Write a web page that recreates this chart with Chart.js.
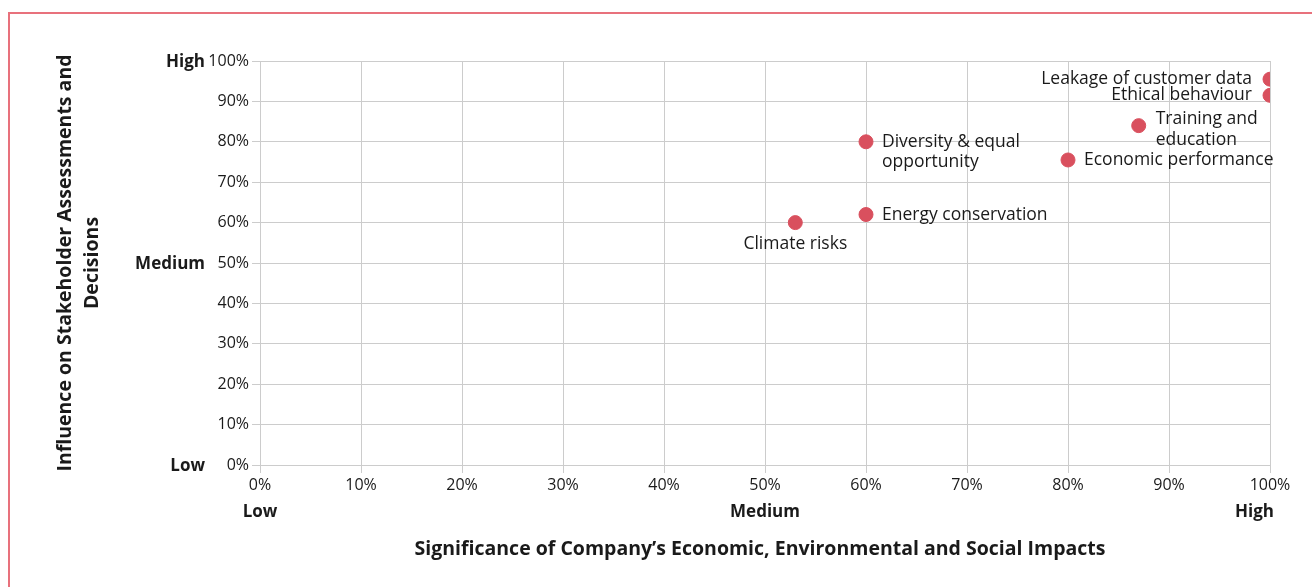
<!DOCTYPE html>
<html>
<head>
<meta charset="utf-8">
<script src="https://cdn.jsdelivr.net/npm/chart.js@4/dist/chart.umd.min.js"></script>
<style>
  html, body { margin: 0; padding: 0; background: #fff; overflow: hidden; }
  #frame { position: absolute; left: 8px; top: 12px; width: 1330px; height: 620px; border: 2px solid #e8717c; }
  #wrap { position: absolute; left: 0; top: 0; width: 1312px; height: 587px; }
</style>
</head>
<body>
<div id="frame"></div>
<div id="wrap"><canvas id="myChart"></canvas></div>
<script>
// topics and their scores (% significance, % influence)
const topics = [
  ["Leakage of customer data"],
  ["Ethical behaviour"],
  ["Training and", "education"],
  ["Diversity & equal", "opportunity"],
  ["Economic performance"],
  ["Energy conservation"],
  ["Climate risks"],
];
const significance = [100, 100, 87, 60, 80, 60, 53];
const influence = [95.5, 91.5, 84, 80, 75.5, 62, 60];
// where each label sits relative to its dot
const labelSide = ["left", "left", "rightUp", "right", "right", "right", "below"];

const levelNames = ["Low", "Medium", "High"];
const levelValues = [0, 50, 100];

const xTitle = "Significance of Company\u2019s Economic, Environmental and Social Impacts";
const yTitle = ["Influence on Stakeholder Assessments and", "Decisions"];

const points = significance.map((s, i) => ({ x: s, y: influence[i] }));

const extraText = {
  id: "extraText",
  afterDraw(chart) {
    const ctx = chart.ctx;
    const xs = chart.scales.x, ys = chart.scales.y;
    ctx.save();
    ctx.fillStyle = "#1a1a1a";

    // point labels
    ctx.font = "17.5px 'Open Sans'";
    const meta = chart.getDatasetMeta(0);
    meta.data.forEach((pt, i) => {
      const lines = topics[i];
      const side = labelSide[i];
      ctx.textBaseline = "middle";
      if (side === "left") {
        ctx.textAlign = "right";
        ctx.fillText(lines[0], pt.x - 18, pt.y);
      } else if (side === "right") {
        ctx.textAlign = "left";
        lines.forEach((l, k) => ctx.fillText(l, pt.x + 16, pt.y + k * 20));
      } else if (side === "rightUp") {
        ctx.textAlign = "left";
        lines.forEach((l, k) => ctx.fillText(l, pt.x + 17, pt.y - 7 + k * 21));
      } else {
        ctx.textAlign = "center";
        ctx.fillText(lines[0], pt.x, pt.y + 21);
      }
    });

    // Low / Medium / High
    ctx.font = "bold 17px 'Open Sans'";
    ctx.textBaseline = "middle";
    ctx.textAlign = "right";
    levelValues.forEach((v, i) => {
      ctx.fillText(levelNames[i], 205, ys.getPixelForValue(v) + 1);
    });
    levelValues.forEach((v, i) => {
      const px = xs.getPixelForValue(v);
      if (i === 2) { ctx.textAlign = "right"; ctx.fillText(levelNames[i], px + 4, 512); }
      else { ctx.textAlign = "center"; ctx.fillText(levelNames[i], px, 512); }
    });

    // axis titles
    ctx.font = "bold 19.5px 'Open Sans'";
    ctx.textAlign = "center";
    ctx.fillText(xTitle, (xs.left + xs.right) / 2 - 5, 549);
    ctx.translate(78, (ys.top + ys.bottom) / 2);
    ctx.rotate(-Math.PI / 2);
    ctx.fillText(yTitle[0], 0, -13);
    ctx.fillText(yTitle[1], 0, 14);
    ctx.restore();
  }
};

const config = {
  type: "scatter",
  data: {
    datasets: [{
      data: points,
      backgroundColor: "#d9505e",
      borderColor: "#d9505e",
      pointRadius: 7,
      pointHoverRadius: 7,
    }],
  },
  options: {
    responsive: false,
    animation: false,
    layout: { padding: { left: 0, right: 42, top: 61, bottom: 0 } },
    plugins: { legend: { display: false }, tooltip: { enabled: false } },
    scales: {
      x: {
        min: 0, max: 100,
        ticks: { stepSize: 10, color: "#1a1a1a", font: { family: "'Open Sans'", size: 16 }, callback: v => v + "%", maxRotation: 0 },
        grid: { color: "#cccccc", tickLength: 8 },
        border: { color: "#cccccc" },
        afterFit: s => { s.height = 587 - 465; },
      },
      y: {
        min: 0, max: 100,
        ticks: { stepSize: 10, color: "#1a1a1a", font: { family: "'Open Sans'", size: 16 }, callback: v => v + "%" },
        grid: { color: "#cccccc", tickLength: 8 },
        border: { color: "#cccccc" },
        afterFit: s => { s.width = 260; },
      },
    },
  },
  plugins: [extraText],
};

const canvas = document.getElementById("myChart");
canvas.width = 1312; canvas.height = 587;
Promise.all([
  document.fonts.load("16px 'Open Sans'"),
  document.fonts.load("bold 18px 'Open Sans'"),
]).catch(() => {}).then(() => {
  new Chart(canvas.getContext("2d"), config);
});
</script>
</body>
</html>
